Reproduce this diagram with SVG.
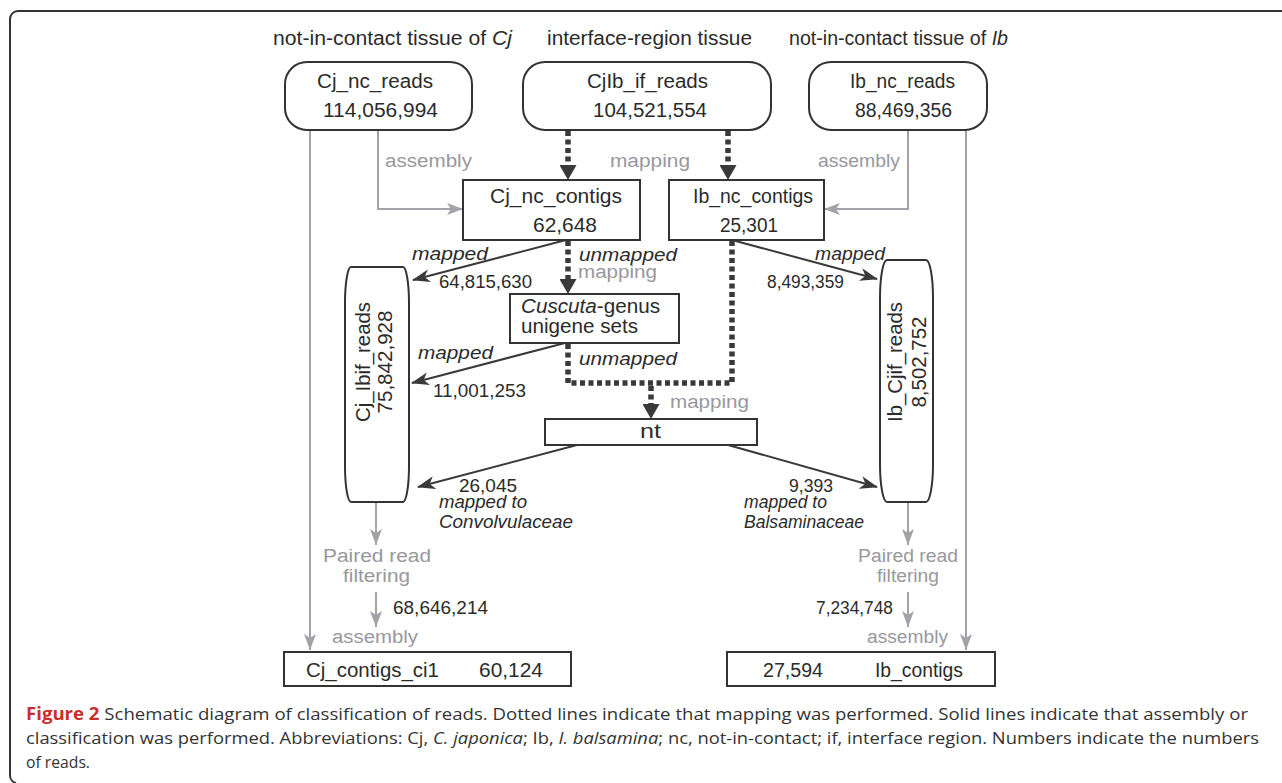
<svg xmlns="http://www.w3.org/2000/svg" width="1282" height="783" viewBox="0 0 1282 783">
<style>
text{font-family:"Liberation Sans",Arial,sans-serif;fill:#2b2b2b}
.b{font-size:20px}
.s{font-size:18px}
.g{fill:#98989e}
.i{font-style:italic}
.box{fill:#fff;stroke:#333;stroke-width:2}
.gl{fill:none;stroke:#a2a2a8;stroke-width:2}
.dl{fill:none;stroke:#3a3a3a;stroke-width:2}
.dot{fill:none;stroke:#3a3a3a;stroke-width:5.5;stroke-dasharray:5 3.5}
.cap{font-family:"Open Sans","Noto Sans",sans-serif;font-size:17px;fill:#333}
</style>
<defs>
<marker id="ag" markerUnits="userSpaceOnUse" viewBox="0 0 16 12" markerWidth="16" markerHeight="12" refX="16" refY="6" orient="auto"><path d="M0,0 L16,6 L0,12 L4,6 z" fill="#a2a2a8"/></marker>
<marker id="ad" markerUnits="userSpaceOnUse" viewBox="0 0 18 13" markerWidth="18" markerHeight="13" refX="17" refY="6.5" orient="auto"><path d="M0,0 L18,6.5 L0,13 L5,6.5 z" fill="#3a3a3a"/></marker>
<marker id="at" markerUnits="userSpaceOnUse" viewBox="0 0 15 17" markerWidth="15" markerHeight="17" refX="0" refY="8.5" orient="auto"><path d="M0,0 L15,8.5 L0,17 z" fill="#3a3a3a"/></marker>
</defs>

<path d="M1282,11 H18 A8,8 0 0 0 10,19 V775 A8,8 0 0 0 16,783" fill="none" stroke="#333" stroke-width="2"/>

<g id="headers">
<text class="b" x="273" y="45" textLength="239" lengthAdjust="spacingAndGlyphs">not-in-contact tissue of <tspan class="i">Cj</tspan></text>
<text class="b" x="547" y="45" textLength="205" lengthAdjust="spacingAndGlyphs">interface-region tissue</text>
<text class="b" x="789" y="45" textLength="219" lengthAdjust="spacingAndGlyphs">not-in-contact tissue of <tspan class="i">Ib</tspan></text>
</g>

<g id="connectors">
<path class="gl" d="M310,130 V650" marker-end="url(#ag)"/>
<path class="gl" d="M378,130 V209 H463" marker-end="url(#ag)"/>
<path class="gl" d="M908,130 V209 H824" marker-end="url(#ag)"/>
<path class="gl" d="M966,130 V650" marker-end="url(#ag)"/>
<path class="gl" d="M376,502 V545" marker-end="url(#ag)"/>
<path class="gl" d="M376,592 V627" marker-end="url(#ag)"/>
<path class="gl" d="M908,502 V545" marker-end="url(#ag)"/>
<path class="gl" d="M908,592 V627" marker-end="url(#ag)"/>
<path class="dl" d="M566,240 L413,280" marker-end="url(#ad)"/>
<path class="dl" d="M565,343 L412,383" marker-end="url(#ad)"/>
<path class="dl" d="M732,240 L877,279" marker-end="url(#ad)"/>
<path class="dl" d="M577,445 L418,487" marker-end="url(#ad)"/>
<path class="dl" d="M728,445 L877,487" marker-end="url(#ad)"/>
<path class="dot" d="M568,131 V165" marker-end="url(#at)"/>
<path class="dot" d="M728,131 V165" marker-end="url(#at)"/>
<path class="dot" d="M568,241 V279" marker-end="url(#at)"/>
<path class="dot" d="M568,344 V383 H732 V241"/>
<path class="dot" d="M651,386 V404" marker-end="url(#at)"/>
<text class="s g" x="385" y="167" textLength="87" lengthAdjust="spacingAndGlyphs">assembly</text>
<text class="s g" x="610" y="167" textLength="80" lengthAdjust="spacingAndGlyphs">mapping</text>
<text class="s g" x="818" y="167" textLength="82" lengthAdjust="spacingAndGlyphs">assembly</text>
<text class="s i" x="412" y="260" textLength="76" lengthAdjust="spacingAndGlyphs">mapped</text>
<text class="s" x="439" y="288" textLength="93" lengthAdjust="spacingAndGlyphs">64,815,630</text>
<text class="s i" x="579" y="261" textLength="98" lengthAdjust="spacingAndGlyphs">unmapped</text>
<text class="s g" x="578" y="278" textLength="79" lengthAdjust="spacingAndGlyphs">mapping</text>
<text class="s i" x="815" y="260" textLength="70" lengthAdjust="spacingAndGlyphs">mapped</text>
<text class="s" x="767" y="288" textLength="77" lengthAdjust="spacingAndGlyphs">8,493,359</text>
<text class="s i" x="418" y="359" textLength="75" lengthAdjust="spacingAndGlyphs">mapped</text>
<text class="s" x="433" y="397" textLength="93" lengthAdjust="spacingAndGlyphs">11,001,253</text>
<text class="s i" x="579" y="365" textLength="98" lengthAdjust="spacingAndGlyphs">unmapped</text>
<text class="s g" x="670" y="408" textLength="79" lengthAdjust="spacingAndGlyphs">mapping</text>
<text class="s" x="459" y="492" textLength="58" lengthAdjust="spacingAndGlyphs">26,045</text>
<text class="s i" x="439" y="508" textLength="88" lengthAdjust="spacingAndGlyphs">mapped to</text>
<text class="s i" x="439" y="528" textLength="134" lengthAdjust="spacingAndGlyphs">Convolvulaceae</text>
<text class="s" x="789" y="492" textLength="44" lengthAdjust="spacingAndGlyphs">9,393</text>
<text class="s i" x="744" y="508" textLength="83" lengthAdjust="spacingAndGlyphs">mapped to</text>
<text class="s i" x="744" y="528" textLength="120" lengthAdjust="spacingAndGlyphs">Balsaminaceae</text>
<text class="s g" x="323" y="562" textLength="108" lengthAdjust="spacingAndGlyphs">Paired read</text>
<text class="s g" x="343" y="582" textLength="67" lengthAdjust="spacingAndGlyphs">filtering</text>
<text class="s" x="393" y="614" textLength="95" lengthAdjust="spacingAndGlyphs">68,646,214</text>
<text class="s g" x="332" y="643" textLength="86" lengthAdjust="spacingAndGlyphs">assembly</text>
<text class="s g" x="858" y="562" textLength="100" lengthAdjust="spacingAndGlyphs">Paired read</text>
<text class="s g" x="877" y="582" textLength="62" lengthAdjust="spacingAndGlyphs">filtering</text>
<text class="s" x="816" y="614" textLength="77" lengthAdjust="spacingAndGlyphs">7,234,748</text>
<text class="s g" x="867" y="643" textLength="81" lengthAdjust="spacingAndGlyphs">assembly</text>
</g>

<g id="Cj_nc_reads">
<rect class="box" x="285" y="62" width="187" height="68" rx="22" ry="22"/>
<text class="b" x="317" y="88" textLength="116" lengthAdjust="spacingAndGlyphs">Cj_nc_reads</text>
<text class="b" x="323" y="117" textLength="115" lengthAdjust="spacingAndGlyphs">114,056,994</text>
</g>
<g id="CjIb_if_reads">
<rect class="box" x="523" y="62" width="248" height="68" rx="22" ry="22"/>
<text class="b" x="587" y="88" textLength="121" lengthAdjust="spacingAndGlyphs">CjIb_if_reads</text>
<text class="b" x="593" y="117" textLength="114" lengthAdjust="spacingAndGlyphs">104,521,554</text>
</g>
<g id="Ib_nc_reads">
<rect class="box" x="809" y="62" width="178" height="68" rx="22" ry="22"/>
<text class="b" x="850" y="88" textLength="105" lengthAdjust="spacingAndGlyphs">Ib_nc_reads</text>
<text class="b" x="855" y="117" textLength="97" lengthAdjust="spacingAndGlyphs">88,469,356</text>
</g>
<g id="Cj_nc_contigs">
<rect class="box" x="463" y="180" width="177" height="60"/>
<text class="b" x="490" y="203" textLength="132" lengthAdjust="spacingAndGlyphs">Cj_nc_contigs</text>
<text class="b" x="533" y="232" textLength="64" lengthAdjust="spacingAndGlyphs">62,648</text>
</g>
<g id="Ib_nc_contigs">
<rect class="box" x="669" y="180" width="155" height="60"/>
<text class="b" x="693" y="203" textLength="120" lengthAdjust="spacingAndGlyphs">Ib_nc_contigs</text>
<text class="b" x="720" y="232" textLength="58" lengthAdjust="spacingAndGlyphs">25,301</text>
</g>
<g id="Cuscuta_unigenes">
<rect class="box" x="510" y="294" width="169" height="49"/>
<text class="b" x="521" y="313" textLength="139" lengthAdjust="spacingAndGlyphs"><tspan class="i">Cuscuta</tspan>-genus</text>
<text class="b" x="521" y="333" textLength="117" lengthAdjust="spacingAndGlyphs">unigene sets</text>
</g>
<g id="nt">
<rect class="box" x="545" y="419" width="212" height="26"/>
<text class="b" x="640" y="438" textLength="21" lengthAdjust="spacingAndGlyphs">nt</text>
</g>
<g id="Cj_Ibif_reads">
<rect class="box" x="345" y="267" width="64" height="235" rx="6" ry="36"/>
<text class="b" transform="translate(370,362) rotate(-90)" text-anchor="middle" textLength="120" lengthAdjust="spacingAndGlyphs">Cj_Ibif_reads</text>
<text class="b" transform="translate(392,362) rotate(-90)" text-anchor="middle" textLength="103" lengthAdjust="spacingAndGlyphs">75,842,928</text>
</g>
<g id="Ib_Cjif_reads">
<rect class="box" x="880" y="260" width="53" height="242" rx="7" ry="38"/>
<text class="b" transform="translate(902,362) rotate(-90)" text-anchor="middle" textLength="120" lengthAdjust="spacingAndGlyphs">Ib_Cjif_reads</text>
<text class="b" transform="translate(926,362) rotate(-90)" text-anchor="middle" textLength="91" lengthAdjust="spacingAndGlyphs">8,502,752</text>
</g>
<g id="Cj_contigs_ci1">
<rect class="box" x="284" y="652" width="287" height="34"/>
<text class="b" x="306" y="677" textLength="133" lengthAdjust="spacingAndGlyphs">Cj_contigs_ci1</text>
<text class="b" x="479" y="677" textLength="64" lengthAdjust="spacingAndGlyphs">60,124</text>
</g>
<g id="Ib_contigs">
<rect class="box" x="727" y="652" width="268" height="34"/>
<text class="b" x="763" y="677" textLength="60" lengthAdjust="spacingAndGlyphs">27,594</text>
<text class="b" x="875" y="677" textLength="88" lengthAdjust="spacingAndGlyphs">Ib_contigs</text>
</g>

<g id="caption">
<text class="cap" x="26" y="720" textLength="1222" lengthAdjust="spacingAndGlyphs"><tspan font-weight="bold" fill="#c8312b">Figure 2</tspan> Schematic diagram of classification of reads. Dotted lines indicate that mapping was performed. Solid lines indicate that assembly or</text>
<text class="cap" x="26" y="744" textLength="1233" lengthAdjust="spacingAndGlyphs">classification was performed. Abbreviations: Cj, <tspan font-style="italic">C. japonica</tspan>; Ib, <tspan font-style="italic">I. balsamina</tspan>; nc, not-in-contact; if, interface region. Numbers indicate the numbers</text>
<text class="cap" x="26" y="768" textLength="64" lengthAdjust="spacingAndGlyphs">of reads.</text>
</g>
</svg>
